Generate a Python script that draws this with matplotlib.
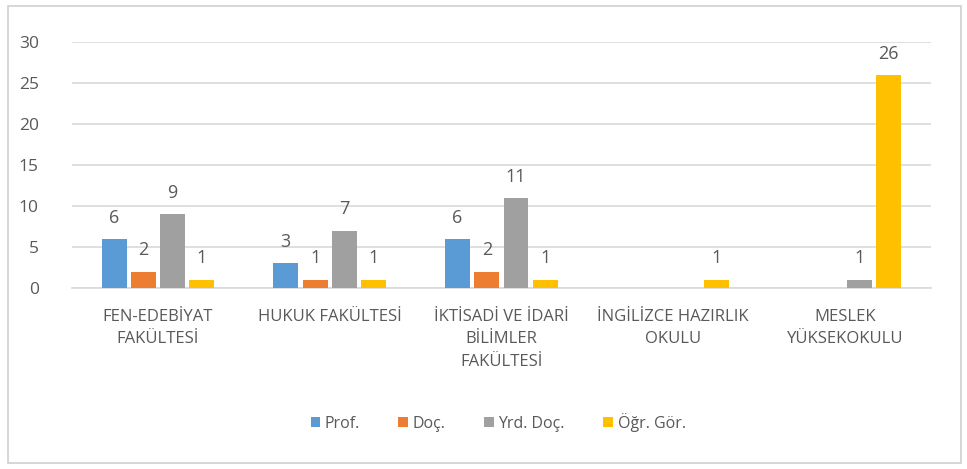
import matplotlib.pyplot as plt
import numpy as np
from matplotlib.patches import Rectangle

plt.rcParams['font.family'] = ['Open Sans', 'DejaVu Sans']

categories = ['FEN-EDEBİYAT\nFAKÜLTESİ', 'HUKUK FAKÜLTESİ', 'İKTİSADİ VE İDARİ\nBİLİMLER\nFAKÜLTESİ',
              'İNGİLİZCE HAZIRLIK\nOKULU', 'MESLEK\nYÜKSEKOKULU']
series = ['Prof.', 'Doç.', 'Yrd. Doç.', 'Öğr. Gör.']
prof = [6, 3, 6, 0, 0]
doc = [2, 1, 2, 0, 0]
yrd_doc = [9, 7, 11, 0, 1]
ogr_gor = [1, 1, 1, 1, 26]
colors = ['#5B9BD5', '#ED7D31', '#A0A0A0', '#FFC000']

text_color = '#595959'

fig = plt.figure(figsize=(9.67, 4.69), dpi=100)
ax = fig.add_axes([0.0745, 0.386, 0.888, 0.524])

x = np.arange(len(categories))
width = 0.145
step = 0.17
for i, (name, vals, c) in enumerate(zip(series, [prof, doc, yrd_doc, ogr_gor], colors)):
    pos = x + (i - 1.5) * step
    bars = ax.bar(pos, vals, width, color=c, label=name, zorder=3)
    for b, v in zip(bars, vals):
        if v > 0:
            ax.text(b.get_x() + b.get_width() / 2, v + 1.5, str(v), ha='center', va='bottom',
                    fontsize=13, color=text_color)

ax.set_xlim(-0.5, len(categories) - 0.5)
ax.set_ylim(0, 30)
ax.set_yticks(range(0, 31, 5))
ax.yaxis.grid(True, color='#D9D9D9', linewidth=1.2, zorder=0)
for s in ['top', 'right', 'left']:
    ax.spines[s].set_visible(False)
ax.spines['bottom'].set_color('#D9D9D9')
ax.spines['bottom'].set_linewidth(1.2)
ax.tick_params(axis='both', length=0, colors=text_color)
ax.tick_params(axis='y', pad=24, labelsize=12.5)
ax.set_xticks(x)
ax.set_xticklabels(categories, fontsize=12, linespacing=1.55)
ax.tick_params(axis='x', pad=15)

fig.legend(loc='center', bbox_to_anchor=(0.515, 0.1), ncol=4, frameon=False,
           fontsize=11.5, labelcolor=text_color, handlelength=0.6, handleheight=0.6,
           handletextpad=0.3, columnspacing=2.4)

fig.patches.append(Rectangle((0.008, 0.013), 0.986, 0.975, transform=fig.transFigure,
                             fill=False, edgecolor='#D0D0D0', linewidth=1.2))

fig.savefig('out.png', dpi=100)
